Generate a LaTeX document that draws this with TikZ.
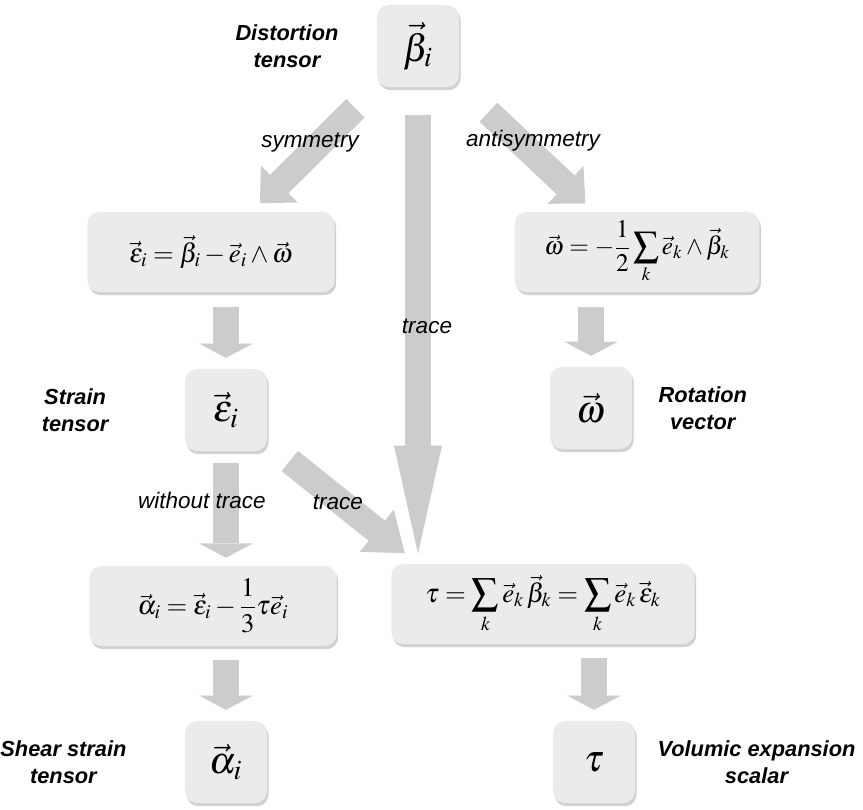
\documentclass[tikz,border=0pt]{standalone}
\usepackage{mathptmx}
\usepackage[no-math]{fontspec}
\setmainfont{Liberation Serif}
\setsansfont{Liberation Sans}
\usepackage{tikz}
\usetikzlibrary{positioning,arrows.meta,shadows}
\definecolor{BoxGray}{HTML}{EBEBEB}
\definecolor{ArrowGray}{HTML}{CCCCCC}

\begin{document}
\begin{tikzpicture}[
  x=0.025cm, y=-0.025cm,
  box/.style={fill=BoxGray, rounded corners=0.3cm, inner sep=0pt,
    drop shadow={shadow xshift=0.04cm, shadow yshift=-0.08cm, fill=black, opacity=0.18}},
  symbox/.style={box, minimum width=2.05cm, minimum height=2.05cm, font=\fontsize{27}{31}\selectfont},
  eqbox/.style={box, minimum height=2cm, font=\fontsize{19}{23}\selectfont},
  tag/.style={font=\sffamily\bfseries\itshape\fontsize{15.5}{19.5}\selectfont, align=center, inner sep=0pt},
  lbl/.style={font=\sffamily\itshape\fontsize{16}{19}\selectfont, inner sep=0pt},
  flow/.style={draw=ArrowGray, line width=0.65cm, shorten <=0.37cm, shorten >=0.27cm,
    -{Triangle[length=0.36cm, width=1.35cm, line width=0pt]}}
]
  \useasboundingbox (0,0) rectangle (863,810);

  % boxes
  \node[symbox] (beta) at (418,46) {$\vec{\beta}_i$};
  \node[eqbox, minimum width=6.18cm] (epseq) at (211,252)
    {$\vec{\varepsilon}_i = \vec{\beta}_i - \vec{e}_i \wedge \vec{\omega}$};
  \node[eqbox, minimum width=6.12cm, font=\fontsize{18}{22}\selectfont] (omegaeq) at (637,252)
    {$\displaystyle \vec{\omega} = -\frac{1}{2}\sum_k \vec{e}_k \wedge \vec{\beta}_k$};
  \node[symbox] (epsbox) at (226,410) {$\vec{\varepsilon}_i$};
  \node[symbox] (omegabox) at (591,408) {$\vec{\omega}$};
  \node[eqbox, minimum width=6.18cm] (alphaeq) at (213,606)
    {$\displaystyle \vec{\alpha}_i = \vec{\varepsilon}_i - \frac{1}{3}\tau\vec{e}_i$};
  \node[eqbox, minimum width=7.58cm] (taueq) at (543,604)
    {$\displaystyle \tau = \sum_k \vec{e}_k\,\vec{\beta}_k = \sum_k \vec{e}_k\,\vec{\varepsilon}_k$};
  \node[symbox] (alphabox) at (226,762) {$\vec{\alpha}_i$};
  \node[symbox] (taubox) at (594,762) {$\tau$};

  % names
  \node[tag, left=0.95cm of beta] (distlbl) {Distortion\\tensor};
  \node[tag, left=1.9cm of epsbox] (strainlbl) {Strain\\tensor};
  \node[tag, right=0.65cm of omegabox] (rotlbl) {Rotation\\vector};
  \node[tag, left=1.45cm of alphabox] (shearlbl) {Shear strain\\tensor};
  \node[tag, right=0.55cm of taubox] (volumlbl) {Volumic expansion\\scalar};

  % arrows
  \coordinate (meet) at (beta.south |- taueq.north);
  \draw[flow, shorten <=0.75cm, shorten >=0.3cm, -{Triangle[length=0.68cm, width=1.3cm, line width=0pt]}] (beta) -- (epseq);
  \draw[flow, shorten <=1cm, shorten >=0.3cm, -{Triangle[length=0.68cm, width=1.3cm, line width=0pt]}] (beta) -- (omegaeq);
  \draw[flow, shorten <=0.7cm, shorten >=0.25cm, -{Triangle[length=2.7cm, width=1.2cm, line width=0pt]}] (beta) -- (meet);
  \draw[flow, shorten <=0.72cm, shorten >=0.42cm, -{Triangle[length=0.9cm, width=1.35cm, line width=0pt]}] (epsbox) -- (meet);
  \draw[flow] (epsbox |- epseq.south) -- (epsbox.north);
  \draw[flow] (omegabox |- omegaeq.south) -- (omegabox.north);
  \draw[flow, shorten <=0.3cm, shorten >=0.2cm] (epsbox) -- (epsbox |- alphaeq.north);
  \draw[flow, shorten <=0.35cm] (alphabox |- alphaeq.south) -- (alphabox.north);
  \draw[flow, shorten <=0.35cm] (taubox |- taueq.south) -- (taubox.north);

  % arrow labels
  \node[lbl] (symlbl) at (310,143) {symmetry};
  \node[lbl] (antilbl) at (533,141) {antisymmetry};
  \node[lbl] (tracelbl) at (427,326) {trace};
  \node[lbl] (epstracelbl) at (338,502) {trace};
  \node[lbl] (withoutlbl) at (202,500) {without trace};
\end{tikzpicture}
\end{document}
